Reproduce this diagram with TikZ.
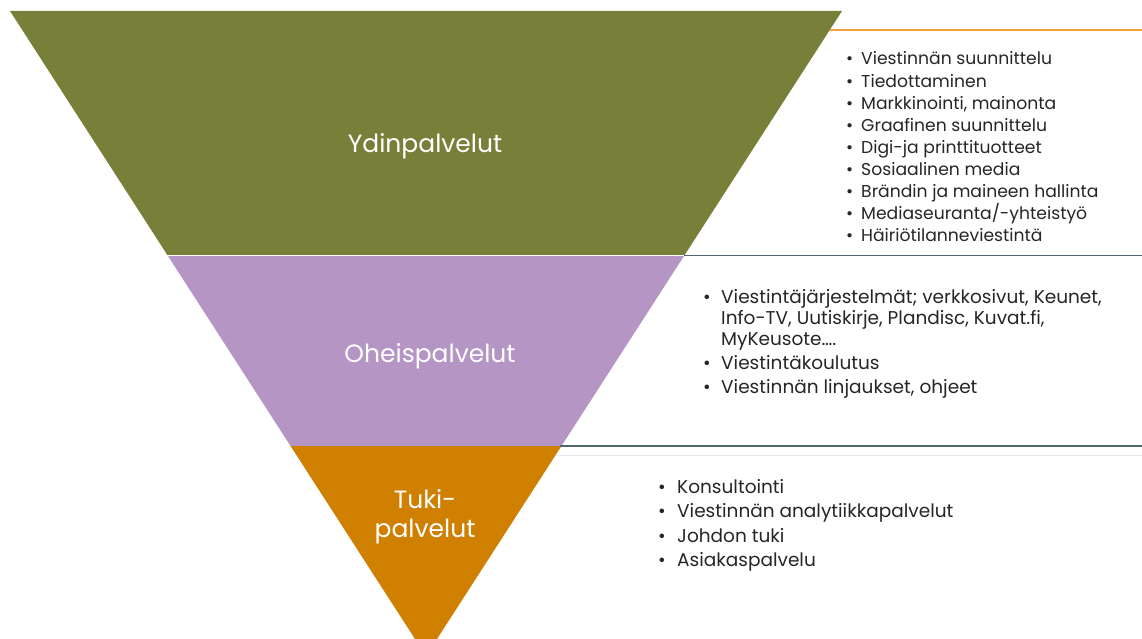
\documentclass[tikz,border=0pt]{standalone}
\usepackage{fontspec}
\setmainfont{Poppins}
\definecolor{olive}{RGB}{120,127,57}
\definecolor{lilac}{RGB}{180,149,195}
\definecolor{amber}{RGB}{207,128,0}
\definecolor{rulegold}{RGB}{238,162,62}
\definecolor{ruleslate}{RGB}{80,101,114}
\definecolor{rulelight}{RGB}{228,230,232}
\definecolor{ink}{RGB}{38,38,38}
\tikzset{
  band/.style={draw=none},
  bandlabel/.style={text=white, font=\fontsize{25}{28}\selectfont, align=center, inner sep=0pt},
  topitem/.style={anchor=base west, inner sep=0pt, text=ink, font=\fontsize{17.2}{20}\selectfont},
  miditem/.style={anchor=base west, inner sep=0pt, text=ink, font=\fontsize{18.5}{23}\selectfont},
  lowitem/.style={anchor=base west, inner sep=0pt, text=ink, font=\fontsize{18.5}{23}\selectfont},
  panelrule/.style={line width=1.4pt},
}
\begin{document}
\begin{tikzpicture}[x=1pt,y=-1pt]
\useasboundingbox (0,0) rectangle (1142,639);
\fill[white] (0,0) rectangle (1142,639);

% inverted triangle, cut into three bands
\def\tri{(10,11) -- (842,11) -- (426,656) -- cycle}
\begin{scope}
  \clip (0,0) rectangle (1142,254.3);
  \fill[olive] \tri;
\end{scope}
\begin{scope}
  \clip (0,256.7) rectangle (1142,445);
  \fill[lilac] \tri;
\end{scope}
\begin{scope}
  \clip (0,446.8) rectangle (1142,700);
  \fill[amber] \tri;
\end{scope}

% panel rules on the right
\coordinate (g0) at (829.7,30);  \coordinate (g1) at (1142,30);
\coordinate (s0) at (684,255.5); \coordinate (s1) at (1142,255.5);
\coordinate (t0) at (560,446);   \coordinate (t1) at (1142,446);
\coordinate (l0) at (556,455);   \coordinate (l1) at (1142,455);
\draw[panelrule, rulegold] (g0) -- (g1);
\draw[panelrule, ruleslate] (s0) -- (s1);
\draw[panelrule, ruleslate] (t0) -- (t1);
\draw[line width=1pt, rulelight] (l0) -- (l1);

% band titles
\node[bandlabel] (core) at (425,146) {Ydinpalvelut};
\node[bandlabel] (side) at (430,356) {Oheispalvelut};
\node[bandlabel] (support) at (425,517) {Tuki-\\[1pt]palvelut};

% core services
\foreach \t [count=\i] in {Viestinnän suunnittelu, Tiedottaminen, {Markkinointi, mainonta},
  Graafinen suunnittelu, Digi-ja printtituotteet, Sosiaalinen media,
  Brändin ja maineen hallinta, Mediaseuranta/-yhteistyö, Häiriötilanneviestintä} {
  \node[topitem] (cb\i) at (846,{65+22.1*(\i-1)}) {•};
  \node[topitem] (c\i) at (861,{65+22.1*(\i-1)}) {\t};
}

% side services
\node[miditem] (sb1) at (703,303) {•};
\node[miditem] (s1a) at (721,303) {Viestintäjärjestelmät; verkkosivut, Keunet,};
\node[miditem] (s1b) at (721,324) {Info-TV, Uutiskirje, Plandisc, Kuvat.fi,};
\node[miditem] (s1c) at (721,345) {MyKeusote….};
\node[miditem] (sb2) at (703,369) {•};
\node[miditem] (s2) at (721,369) {Viestintäkoulutus};
\node[miditem] (sb3) at (703,393) {•};
\node[miditem] (s3) at (721,393) {Viestinnän linjaukset, ohjeet};

% support services
\foreach \t [count=\i] in {Konsultointi, Viestinnän analytiikkapalvelut, Johdon tuki, Asiakaspalvelu} {
  \node[lowitem] (ub\i) at (658,{493+24.6*(\i-1)}) {•};
  \node[lowitem] (u\i) at (677,{493+24.6*(\i-1)}) {\t};
}
\end{tikzpicture}
\end{document}
